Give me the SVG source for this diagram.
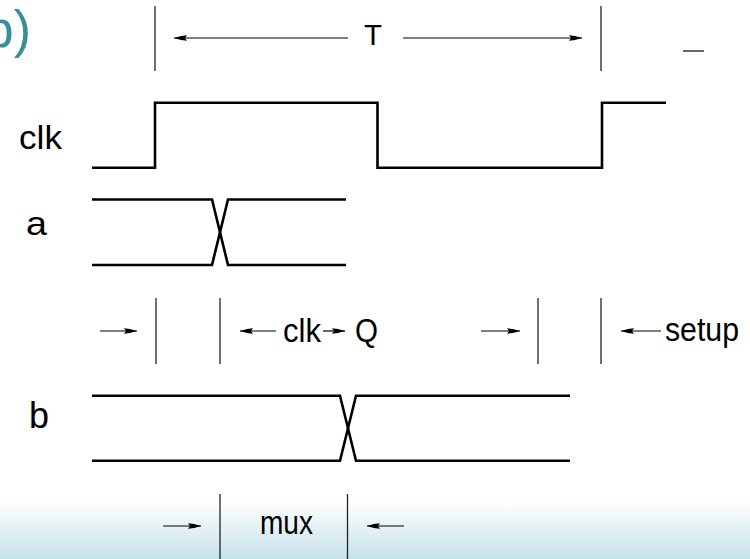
<svg xmlns="http://www.w3.org/2000/svg" width="750" height="559" viewBox="0 0 750 559">
  <defs>
    <linearGradient id="bg" x1="0" y1="500" x2="0" y2="559" gradientUnits="userSpaceOnUse">
      <stop offset="0" stop-color="#ffffff"/>
      <stop offset="1" stop-color="#c6e3ea"/>
    </linearGradient>
    <marker id="ah" viewBox="0 0 13 7" refX="13" refY="3.5" markerWidth="13" markerHeight="7" markerUnits="userSpaceOnUse" orient="auto">
      <path d="M0,0.8 L6,1.6 L13,3.5 L6,5.4 L0,6.2 L2,3.5 Z" fill="#000"/>
    </marker>
    <style>
      .wave { fill: none; stroke: #000; stroke-width: 2.6; stroke-linejoin: miter; stroke-linecap: butt; }
      .tick { stroke: #222; stroke-width: 1.3; }
      .dim { stroke: #000; stroke-width: 1.2; marker-end: url(#ah); }
      .lbl { font-family: "Liberation Sans", Arial, sans-serif; fill: #000; }
      .title { font-family: "Liberation Sans", Arial, sans-serif; fill: #3a8e9a; }
    </style>
  </defs>

  <rect x="0" y="0" width="750" height="559" fill="#ffffff"/>
  <rect x="0" y="500" width="750" height="59" fill="url(#bg)"/>

  <g id="title">
    <text class="title" x="31" y="47" font-size="52" text-anchor="end">b)</text>
  </g>

  <g id="period">
    <line class="tick" x1="155" y1="6" x2="155" y2="71"/>
    <line class="tick" x1="601" y1="6" x2="601" y2="71"/>
    <text class="lbl" x="364" y="45" font-size="30" textLength="18" lengthAdjust="spacingAndGlyphs">T</text>
    <line x1="683" y1="51" x2="704" y2="51" stroke="#000" stroke-width="1.2"/>
  </g>

  <g id="clk-signal">
    <text class="lbl" x="19" y="149" font-size="33" textLength="43" lengthAdjust="spacingAndGlyphs">clk</text>
    <path class="wave" d="M92,167.7 H155 V102.7 H377.5 V167.7 H602 V102.7 H666"/>
  </g>

  <g id="a-signal">
    <text class="lbl" x="26" y="235" font-size="34" textLength="21" lengthAdjust="spacingAndGlyphs">a</text>
    <path class="wave" d="M92,199.5 H212 L228,265 H346"/>
    <path class="wave" d="M92,265 H212 L228,199.5 H346"/>
  </g>

  <g id="timing-clkq-setup">
    <line class="tick" x1="156" y1="298" x2="156" y2="364"/>
    <line class="tick" x1="220" y1="298" x2="220" y2="364"/>
    <line class="tick" x1="538" y1="298" x2="538" y2="364"/>
    <line class="tick" x1="601" y1="298" x2="601" y2="364"/>
    <text class="lbl" x="283" y="342" font-size="33" textLength="38" lengthAdjust="spacingAndGlyphs">clk</text>
    <text class="lbl" x="355" y="342" font-size="33" textLength="23" lengthAdjust="spacingAndGlyphs">Q</text>
    <text class="lbl" x="665" y="341" font-size="33" textLength="74" lengthAdjust="spacingAndGlyphs">setup</text>
  </g>

  <g id="b-signal">
    <text class="lbl" x="29" y="428" font-size="36" textLength="20" lengthAdjust="spacingAndGlyphs">b</text>
    <path class="wave" d="M92,395.7 H340 L356,460.7 H570"/>
    <path class="wave" d="M92,460.7 H340 L356,395.7 H570"/>
  </g>

  <g id="timing-mux">
    <line class="tick" x1="220" y1="494" x2="220" y2="559"/>
    <line class="tick" x1="347.5" y1="494" x2="347.5" y2="559"/>
    <text class="lbl" x="260" y="534" font-size="33" textLength="53" lengthAdjust="spacingAndGlyphs">mux</text>
  </g>

  <g id="connectors">
    <line class="dim" x1="348" y1="38" x2="174" y2="38"/>
    <line class="dim" x1="403" y1="38" x2="582" y2="38"/>
    <line class="dim" x1="100" y1="331" x2="137" y2="331"/>
    <line class="dim" x1="276" y1="331" x2="240" y2="331"/>
    <line class="dim" x1="323" y1="331" x2="345" y2="331"/>
    <line class="dim" x1="481" y1="331" x2="520" y2="331"/>
    <line class="dim" x1="661" y1="331" x2="621" y2="331"/>
    <line class="dim" x1="163" y1="526" x2="201" y2="526"/>
    <line class="dim" x1="404" y1="526" x2="367" y2="526"/>
  </g>
</svg>
